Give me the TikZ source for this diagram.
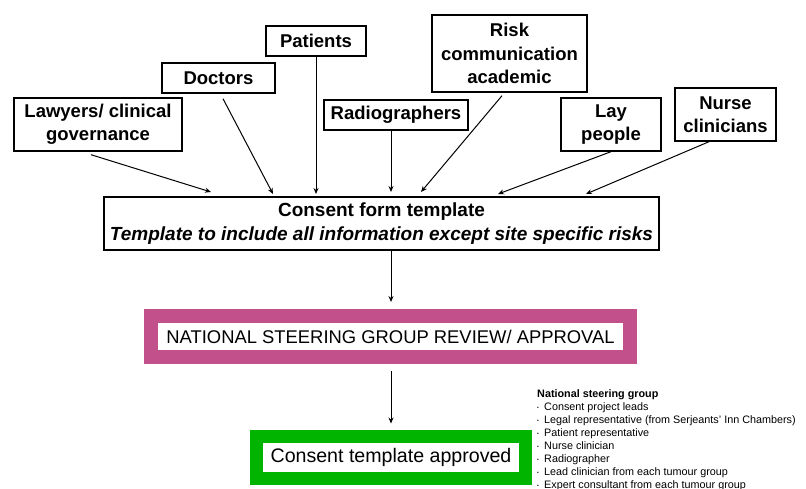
\documentclass[tikz,border=0pt]{standalone}
\usepackage{fontspec}
\setmainfont{Liberation Sans}
\usetikzlibrary{arrows.meta}
\definecolor{nsgmag}{RGB}{194,80,138}
\definecolor{okgreen}{RGB}{0,180,0}
\begin{document}
\begin{tikzpicture}[x=1pt,y=-1pt,
  src/.style={draw=black,line width=1.4pt,inner sep=0pt,align=center,font=\fontsize{18.5}{23.5}\selectfont\bfseries},
  arr/.style={line width=1pt,-{Stealth[length=6pt,width=5pt]}},
  list/.style={inner sep=0pt,align=left,anchor=north west,font=\fontsize{10.8}{13}\selectfont}
]
\useasboundingbox[fill=white] (0,0) rectangle (806,488);

\node[src,minimum width=168pt,minimum height=53pt] (law) at (98,124.5) {Lawyers/ clinical\\governance};
\node[src,minimum width=113pt,minimum height=30pt] (doc) at (218.5,78) {Doctors};
\node[src,minimum width=100pt,minimum height=30pt] (pat) at (316,41) {Patients};
\node[src,minimum width=144pt,minimum height=30pt] (rad) at (396,115) {Radiographers};
\node[src,minimum width=155pt,minimum height=77pt] (risk) at (509.5,53.5) {Risk\\communication\\academic};
\node[src,minimum width=100pt,minimum height=53pt] (lay) at (611,124.5) {Lay\\people};
\node[src,minimum width=101pt,minimum height=53pt] (nurse) at (725.5,114.5) {Nurse\\clinicians};

\node[src,minimum width=555pt,minimum height=53pt,font=\fontsize{19}{23.5}\selectfont\bfseries] (cft) at (381.5,223.5)
  {Consent form template\\\textit{Template to include all information except site specific risks}};

\node[draw=nsgmag,line width=14pt,minimum width=479pt,minimum height=41pt,inner sep=0pt,font=\fontsize{18.4}{22}\selectfont] (nsg) at (390.5,336.5)
  {NATIONAL STEERING GROUP REVIEW/ APPROVAL};

\node[draw=okgreen,line width=13pt,minimum width=269pt,minimum height=42pt,inner sep=0pt,font=\fontsize{19.6}{23}\selectfont] (ok) at (391,457.5)
  {Consent template approved};

\newcommand{\lb}{\makebox[7pt][l]{\raisebox{1.5pt}{\fontsize{5}{5}\selectfont\textbullet}}}
\node[list] (grp) at (537,389.5) {\textbf{National steering group}\\
\lb Consent project leads\\
\lb Legal representative (from Serjeants' Inn Chambers)\\
\lb Patient representative\\
\lb Nurse clinician\\
\lb Radiographer\\
\lb Lead clinician from each tumour group\\
\lb Expert consultant from each tumour group};

\coordinate (e1) at (211,192);
\coordinate (e2) at (273,194);
\coordinate (e3) at (316,194);
\coordinate (e4) at (391,192);
\coordinate (e5) at (421,192);
\coordinate (e6) at (498,194);
\coordinate (e7) at (586,194);

\draw[arr] ([xshift=-7pt,yshift=-3pt]law.south) -- (e1);
\draw[arr] ([xshift=4.5pt,yshift=-5pt]doc.south) -- (e2);
\draw[arr] (pat.south) -- (e3);
\draw[arr] ([xshift=-5pt]rad.south) -- (e4);
\draw[arr] ([xshift=-7.5pt,yshift=-3pt]risk.south) -- (e5);
\draw[arr] (lay.south) -- (e6);
\draw[arr] ([xshift=-16.5pt]nurse.south) -- (e7);

\draw[arr] ([xshift=9.5pt]cft.south) -- ([xshift=0.5pt,yshift=7pt]nsg.north);
\draw[arr] ([xshift=0.5pt,yshift=-7pt]nsg.south) -- ([yshift=6.5pt]ok.north);
\end{tikzpicture}
\end{document}
